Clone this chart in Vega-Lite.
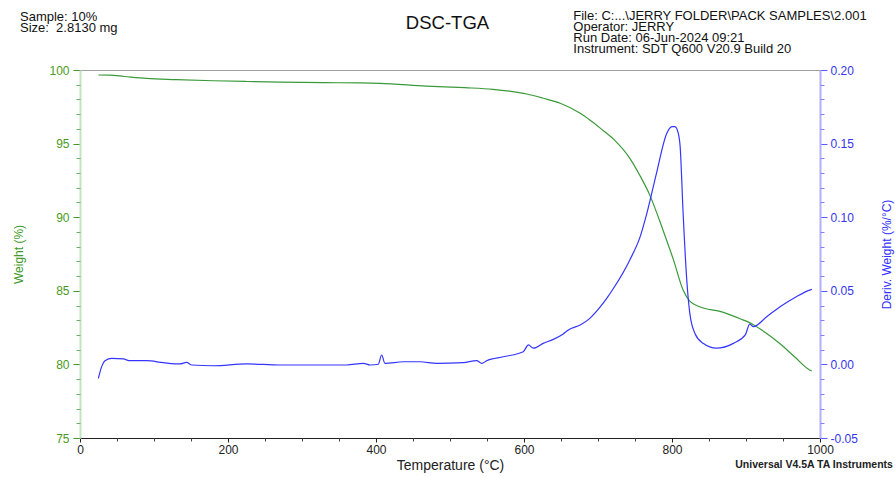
{
  "$schema": "https://vega.github.io/schema/vega-lite/v6.json",
  "width": 740,
  "height": 368,
  "autosize": {"type": "none"},
  "padding": {"left": 80, "top": 70, "right": 75, "bottom": 39},
  "background": "white",
  "config": {
    "view": {"stroke": "#a0a0a0", "strokeWidth": 1},
    "axis": {"grid": false, "labelFont": "Liberation Sans", "titleFont": "Liberation Sans", "titleFontWeight": "normal"}
  },
  "datasets": {
    "weight": [
      {"T": 24.8, "W": 99.66}, {"T": 40, "W": 99.65}, {"T": 60, "W": 99.56}, {"T": 90, "W": 99.43},
      {"T": 130, "W": 99.35}, {"T": 180, "W": 99.27}, {"T": 225, "W": 99.22}, {"T": 270, "W": 99.18},
      {"T": 330, "W": 99.14}, {"T": 378, "W": 99.12}, {"T": 405, "W": 99.09}, {"T": 468, "W": 98.91},
      {"T": 520, "W": 98.8}, {"T": 558, "W": 98.69}, {"T": 580, "W": 98.57}, {"T": 604, "W": 98.37},
      {"T": 625, "W": 98.1}, {"T": 649, "W": 97.74}, {"T": 676, "W": 97.06}, {"T": 689, "W": 96.6},
      {"T": 703, "W": 96.05}, {"T": 721, "W": 95.3}, {"T": 743, "W": 94.0}, {"T": 757, "W": 92.8},
      {"T": 770, "W": 91.5}, {"T": 788, "W": 89.1}, {"T": 802, "W": 87.1}, {"T": 815, "W": 85.05},
      {"T": 824, "W": 84.3}, {"T": 838, "W": 83.9}, {"T": 865, "W": 83.6}, {"T": 892, "W": 83.1},
      {"T": 910, "W": 82.7}, {"T": 928, "W": 82.1}, {"T": 946, "W": 81.4}, {"T": 966, "W": 80.5},
      {"T": 986, "W": 79.62}, {"T": 989, "W": 79.55}
    ],
    "deriv": [
      {"T": 24.8, "D": -0.0095}, {"T": 29.3, "D": -0.0015}, {"T": 33.8, "D": 0.0025}, {"T": 42.8, "D": 0.0041},
      {"T": 58.6, "D": 0.0037}, {"T": 67.6, "D": 0.0025}, {"T": 90, "D": 0.0025}, {"T": 112.6, "D": 0.0012},
      {"T": 135, "D": 0.0003}, {"T": 144, "D": 0.0014}, {"T": 151, "D": -0.0004}, {"T": 180, "D": -0.0009},
      {"T": 225, "D": 0.0003}, {"T": 270, "D": -0.0004}, {"T": 315, "D": -0.0004}, {"T": 360, "D": -0.0004},
      {"T": 383, "D": 0.0007}, {"T": 392, "D": -0.0004}, {"T": 403, "D": 0.0001}, {"T": 407.7, "D": 0.0064},
      {"T": 412, "D": 0.0007}, {"T": 437, "D": 0.0018}, {"T": 459.5, "D": 0.0018}, {"T": 482, "D": 0.0007},
      {"T": 518, "D": 0.0012}, {"T": 536, "D": 0.0025}, {"T": 543, "D": 0.0007}, {"T": 549.5, "D": 0.0025},
      {"T": 572, "D": 0.0052}, {"T": 599, "D": 0.0086}, {"T": 606, "D": 0.0132}, {"T": 612.6, "D": 0.011},
      {"T": 626, "D": 0.0143}, {"T": 639.6, "D": 0.017}, {"T": 653, "D": 0.0207}, {"T": 660, "D": 0.0234},
      {"T": 676, "D": 0.0268}, {"T": 689, "D": 0.0313}, {"T": 703, "D": 0.039}, {"T": 712, "D": 0.045},
      {"T": 721, "D": 0.0517}, {"T": 743, "D": 0.071}, {"T": 757, "D": 0.0868}, {"T": 766, "D": 0.1026},
      {"T": 779, "D": 0.1298}, {"T": 793, "D": 0.157}, {"T": 800, "D": 0.1615}, {"T": 804, "D": 0.1615},
      {"T": 808.5, "D": 0.157}, {"T": 811, "D": 0.148}, {"T": 815, "D": 0.103}, {"T": 820, "D": 0.057},
      {"T": 824, "D": 0.035}, {"T": 831, "D": 0.021}, {"T": 842, "D": 0.0143}, {"T": 860, "D": 0.011},
      {"T": 883, "D": 0.0143}, {"T": 899, "D": 0.02}, {"T": 905, "D": 0.0274}, {"T": 910, "D": 0.0256},
      {"T": 928, "D": 0.0324}, {"T": 946, "D": 0.0392}, {"T": 968, "D": 0.046}, {"T": 986, "D": 0.0505},
      {"T": 989, "D": 0.051}
    ]
  },
  "layer": [
    {
      "data": {"name": "weight"},
      "mark": {"type": "line", "color": "#3a9a3a", "strokeWidth": 1.2, "interpolate": "monotone", "clip": true},
      "encoding": {
        "x": {"field": "T", "type": "quantitative", "scale": {"domain": [0, 1000], "nice": false},
          "axis": {"orient": "bottom", "values": [0, 200, 400, 600, 800, 1000], "format": "d", "tickSize": 4, "domainColor": "#222222", "tickColor": "#222222",
            "labelColor": "#222222", "labelFontSize": 12, "labelPadding": 2, "labelFlush": false, "labelOverlap": false,
            "title": "Temperature (°C)", "titleFontSize": 14, "titleColor": "#222222", "titlePadding": 3}},
        "y": {"field": "W", "type": "quantitative", "scale": {"domain": [75, 100], "nice": false, "zero": false},
          "axis": {"orient": "left", "values": [75, 80, 85, 90, 95, 100], "tickSize": 7, "tickColor": "#3f9a2a", "domainColor": "#c2e4c2", "domainWidth": 2,
            "labelColor": "#4a9a22", "labelFontSize": 12, "labelPadding": 4, "labelOverlap": false,
            "title": "Weight (%)", "titleColor": "#3f9a2a", "titleFontSize": 12, "titlePadding": 23}}
      }
    },
    {
      "data": {"name": "deriv"},
      "mark": {"type": "line", "color": "#3535ff", "strokeWidth": 1.2, "interpolate": "monotone", "clip": true},
      "encoding": {
        "x": {"field": "T", "type": "quantitative", "scale": {"domain": [0, 1000], "nice": false},
          "axis": {"orient": "bottom", "values": [50, 100, 150, 250, 300, 350, 450, 500, 550, 650, 700, 750, 850, 900, 950], "labels": false, "domain": false,
            "tickSize": 3, "tickColor": "#444444", "title": null}},
        "y": {"field": "D", "type": "quantitative", "scale": {"domain": [-0.05, 0.2], "nice": false, "zero": false},
          "axis": {"orient": "right", "values": [-0.05, 0, 0.05, 0.1, 0.15, 0.2], "tickSize": 7, "tickColor": "#5a5aff", "domainColor": "#b0b0ff", "domainWidth": 2,
            "labelColor": "#3535ee", "labelFontSize": 12, "labelPadding": 3, "labelOverlap": false,
            "labelExpr": "datum.value < 0 ? '-' + format(-datum.value, '.2f') : format(datum.value, '.2f')",
            "title": "Deriv. Weight (%/°C)", "titleAngle": 270, "titleColor": "#3030ff", "titleFontSize": 12, "titlePadding": 36}}
      }
    },
    {
      "data": {"name": "weight"},
      "mark": {"type": "line", "opacity": 0},
      "encoding": {
        "x": {"field": "T", "type": "quantitative", "scale": {"domain": [0, 1000], "nice": false}, "axis": null},
        "y": {"field": "W", "type": "quantitative", "scale": {"domain": [75, 100], "nice": false, "zero": false},
          "axis": {"orient": "left", "values": [76, 77, 78, 79, 81, 82, 83, 84, 86, 87, 88, 89, 91, 92, 93, 94, 96, 97, 98, 99],
            "labels": false, "domain": false, "tickSize": 4, "tickColor": "#6ab06a", "title": null}}
      }
    },
    {
      "data": {"name": "deriv"},
      "mark": {"type": "line", "opacity": 0},
      "encoding": {
        "x": {"field": "T", "type": "quantitative", "scale": {"domain": [0, 1000], "nice": false}, "axis": null},
        "y": {"field": "D", "type": "quantitative", "scale": {"domain": [-0.05, 0.2], "nice": false, "zero": false},
          "axis": {"orient": "right", "values": [-0.04, -0.03, -0.02, -0.01, 0.01, 0.02, 0.03, 0.04, 0.06, 0.07, 0.08, 0.09, 0.11, 0.12, 0.13, 0.14, 0.16, 0.17, 0.18, 0.19],
            "labels": false, "domain": false, "tickSize": 4, "tickColor": "#8080ff", "title": null}}
      }
    },
    {
      "data": {"values": [{"note": "DSC-TGA"}]},
      "mark": {"type": "text", "align": "center", "baseline": "alphabetic", "font": "Liberation Sans", "fontSize": 18.5, "color": "#111111"},
      "encoding": {
        "text": {"field": "note"},
        "x": {"datum": 496.6, "type": "quantitative", "scale": {"domain": [0, 1000], "nice": false}, "axis": null},
        "y": {"datum": 102.8, "type": "quantitative", "scale": {"domain": [75, 100], "nice": false, "zero": false}, "axis": null}
      }
    },
    {
      "data": {"values": [{"note": "Sample: 10%\nSize:\u00a0 2.8130 mg"}]},
      "mark": {"type": "text", "align": "left", "baseline": "alphabetic", "font": "Liberation Sans", "fontSize": 13, "lineHeight": 11.5, "lineBreak": "\n", "color": "#111111"},
      "encoding": {
        "text": {"field": "note"},
        "x": {"datum": -81.1, "type": "quantitative", "scale": {"domain": [0, 1000], "nice": false}, "axis": null},
        "y": {"datum": 103.36, "type": "quantitative", "scale": {"domain": [75, 100], "nice": false, "zero": false}, "axis": null}
      }
    },
    {
      "data": {"values": [{"note": "File: C:...\\JERRY FOLDER\\PACK SAMPLES\\2.001\nOperator: JERRY\nRun Date: 06-Jun-2024 09:21\nInstrument: SDT Q600 V20.9 Build 20"}]},
      "mark": {"type": "text", "align": "left", "baseline": "alphabetic", "font": "Liberation Sans", "fontSize": 13, "lineHeight": 11.2, "lineBreak": "\n", "color": "#111111"},
      "encoding": {
        "text": {"field": "note"},
        "x": {"datum": 666.6, "type": "quantitative", "scale": {"domain": [0, 1000], "nice": false}, "axis": null},
        "y": {"datum": 103.43, "type": "quantitative", "scale": {"domain": [75, 100], "nice": false, "zero": false}, "axis": null}
      }
    },
    {
      "data": {"values": [{"note": "Universal V4.5A TA Instruments"}]},
      "mark": {"type": "text", "align": "right", "baseline": "alphabetic", "font": "Liberation Sans", "fontSize": 10.5, "fontWeight": "bold", "color": "#222222"},
      "encoding": {
        "text": {"field": "note"},
        "x": {"datum": 1098.6, "type": "quantitative", "scale": {"domain": [0, 1000], "nice": false}, "axis": null},
        "y": {"datum": 72.93, "type": "quantitative", "scale": {"domain": [75, 100], "nice": false, "zero": false}, "axis": null}
      }
    }
  ],
  "resolve": {"scale": {"y": "independent"}, "axis": {"x": "independent", "y": "independent"}}
}
